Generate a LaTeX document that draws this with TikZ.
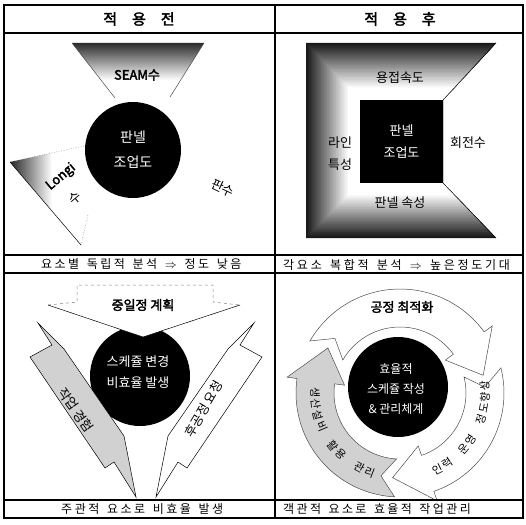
\documentclass[tikz,border=0pt]{standalone}
\usepackage{fontspec}
\setmainfont{Noto Sans CJK KR}[AutoFakeBold=2.5]
\newcommand{\ringarw}[4]{% #1 tail angle, #2 tip angle, #3 style, #4 name
  \pgfmathsetmacro{\hb}{#2+24}
  \pgfmathsetmacro{\nv}{#1-10}
  \filldraw[#3] plot[domain=#1:\hb, samples=40] (\x:104pt) -- (\hb:114pt) -- (#2:85pt) coordinate (#4) -- (\hb:56pt) -- plot[domain=\hb:#1, samples=40] (\x:66pt) -- (\nv:85pt) -- cycle;
}
\newcommand{\darr}{\ensuremath{\Rightarrow}}
\def\spcamt{0pt}
\def\spcout#1#2{\def\spcamt{#1}\spcloop#2\relax}
\def\spcloop#1{\ifx\relax#1\else#1\kern\spcamt\relax\expandafter\spcloop\fi}
\begin{document}
\begin{tikzpicture}[x=1pt,y=-1pt,
  rule/.style={line width=1.1pt},
  thinln/.style={line width=0.5pt},
  hdr/.style={font=\fontsize{15}{15}\selectfont\bfseries},
  strip/.style={font=\fontsize{12}{12}\selectfont},
  circtxt/.style={text=white, align=center},
  lbl/.style={font=\fontsize{13}{13}\selectfont},
  blk/.style={fill=black},
]
\useasboundingbox (0,0) rectangle (526,524);
\fill[white] (0,0) rectangle (526,524);

% ---------- top-left panel ----------
\begin{scope}
  \clip (72,43) -- (204,43) -- (170,97) -- (115,98) -- cycle;
  \shade[top color=black!85, bottom color=white] (72,42) rectangle (204,80);
\end{scope}
\draw[thinln, black!70] (72,43) -- (115,98);
\draw[thinln, black!70] (204,43) -- (170,97);
\node[font=\fontsize{13}{13}\selectfont\bfseries] (seam) at (137,75) {SEAM수};

\begin{scope}
  \clip (10,162) -- (84,146) -- (81,245) -- cycle;
  \shade[left color=black!85, right color=white] (10,140) rectangle (52,250);
\end{scope}
\draw[thinln] (10,162) -- (81,245);
\draw[thinln, dotted, black!60] (10,162) -- (84,146);
\draw[thinln, dotted, black!60] (81,245) -- (88,215);
\node[rotate=40, font=\fontsize{13}{13}\selectfont\bfseries, inner sep=1pt] (longi) at (61,177) {Longi};
\node[rotate=40, lbl, inner sep=1pt] (su) at (75,198) {수};
\node[rotate=-25, lbl] (pansu) at (223,188) {판수};

\node[circle, blk, minimum size=96pt, inner sep=0pt, circtxt, font=\fontsize{14}{25}\selectfont] (c1) at (133,150) {판넬\\조업도};

% ---------- top-right panel ----------
\foreach \i in {0,...,28}{
  \pgfmathsetmacro{\t}{0.78*\i/28}
  \pgfmathsetmacro{\p}{90*(1-\i/28)}
  \fill[black!\p] ({306+54*\t},{43+57*\t}) -- ({496-53*\t},{43+57*\t}) -- (443,100) -- (443,183) -- ({496-53*\t},{238-55*\t}) -- ({306+54*\t},{238-55*\t}) -- cycle;
}
\draw[thinln] (496,43) -- (443,100);
\draw[thinln] (443,183) -- (496,238);
\node[blk, minimum width=83pt, minimum height=83pt, inner sep=0pt, circtxt, font=\fontsize{13}{22}\selectfont] (c2) at (401.5,141.5) {판넬\\조업도};
\node[lbl] (weld) at (400,78) {용접속도};
\node[lbl, align=center, font=\fontsize{13}{22}\selectfont] (line) at (340,154) {라인\\특성};
\node[lbl] (panel) at (400,203) {판넬 속성};
\node[lbl] (rot) at (468,143) {회전수};

% ---------- bottom-left panel ----------
\node[circle, blk, minimum size=100pt, inner sep=0pt] (c3) at (140,376) {};
\fill[white] (77,285) -- (213,285) -- (213,302) -- (240,305) -- (143,337) -- (48,305) -- (77,302) -- cycle;
\draw[thinln, dashed, black!50] (48,305) -- (77,302) -- (77,285) -- (213,285) -- (213,302) -- (240,305);
\draw[thinln] (48,305) -- (143,337) -- (240,305);
\node[lbl, font=\fontsize{13}{13}\selectfont\bfseries] (plan) at (143,305) {중일정 계획};

\filldraw[thinln, fill=black!18] (38,323) -- (52,345) -- (30,357) -- (105,468) -- (114,462) -- (136,497) -- (124,436) -- (64,349) -- cycle;
\filldraw[thinln, fill=white] (254,323) -- (240,345) -- (262,357) -- (187,468) -- (178,462) -- (156,497) -- (168,436) -- (228,349) -- cycle;
\node[lbl, rotate=-55, inner sep=1pt] (exp) at (76,410) {작업 경험};
\node[lbl, rotate=60, inner sep=1pt] (req) at (204,409) {후공정 요청};
\node[circtxt, font=\fontsize{13}{21}\selectfont] (c3t) at (138,372) {스케쥴 변경\\비효율 발생};

% ---------- bottom-right panel ----------
\begin{scope}[shift={(400,393)}]
  \ringarw{150}{12}{thinln, draw=black!70, fill=white}{tipA}
  \ringarw{14}{-95}{thinln, draw=black!70, fill=white}{tipB}
  \ringarw{267}{148}{thinln, draw=black!70, fill=black!18}{tipC}
  \foreach \ch [count=\k from 0] in {인,력,{},운,영,{},정,도,향,상}{
    \pgfmathsetmacro{\a}{-64+7.67*\k}
    \node[font=\fontsize{11}{11}\selectfont, rotate=\a+90, inner sep=0pt] (r\k) at (\a:85pt) {\ch};
  }
  \foreach \ch [count=\k from 0] in {생,산,설,비,{},활,용,{},관,리}{
    \pgfmathsetmacro{\a}{180+7.67*\k}
    \node[font=\fontsize{11}{11}\selectfont, rotate=\a+90, inner sep=0pt] (l\k) at (\a:85pt) {\ch};
  }
\end{scope}
\node[lbl, font=\fontsize{13}{13}\selectfont\bfseries] (opt) at (402,307) {공정 최적화};
\node[circle, blk, minimum size=100pt, inner sep=0pt] (c4) at (398,387) {};
\node[circtxt, font=\fontsize{12}{20}\selectfont] (c4t) at (396,389) {효율적\\스케쥴 작성\\\& 관리체계};

% ---------- table ----------
\draw[rule] (4,5) rectangle (523,518);
\draw[rule] (275,5) -- (275,518);
\foreach \yy in {33,255,273,500} \draw[rule] (4,\yy) -- (523,\yy);
\node[hdr] (h1) at (139,19) {적\hspace{1em}용\hspace{1em}전};
\node[hdr] (h2) at (400,19) {적\hspace{1em}용\hspace{1em}후};
\node[strip] (s1) at (142.5,264.5) {\spcout{2.5pt}{요소별\ 독립적\ 분석\ \darr\ 정도\ 낮음}};
\node[strip, anchor=west, inner sep=0pt] (s2) at (283,264.5) {\spcout{2.75pt}{각요소\ 복합적\ 분석\ \darr\ 높은정도기대}};
\node[strip] (s3) at (143.5,509) {\spcout{2.5pt}{주관적\ 요소로\ 비효율\ 발생}};
\node[strip, anchor=west, inner sep=0pt] (s4) at (283,509) {\spcout{2.4pt}{객관적\ 요소로\ 효율적\ 작업관리}};
\end{tikzpicture}
\end{document}
